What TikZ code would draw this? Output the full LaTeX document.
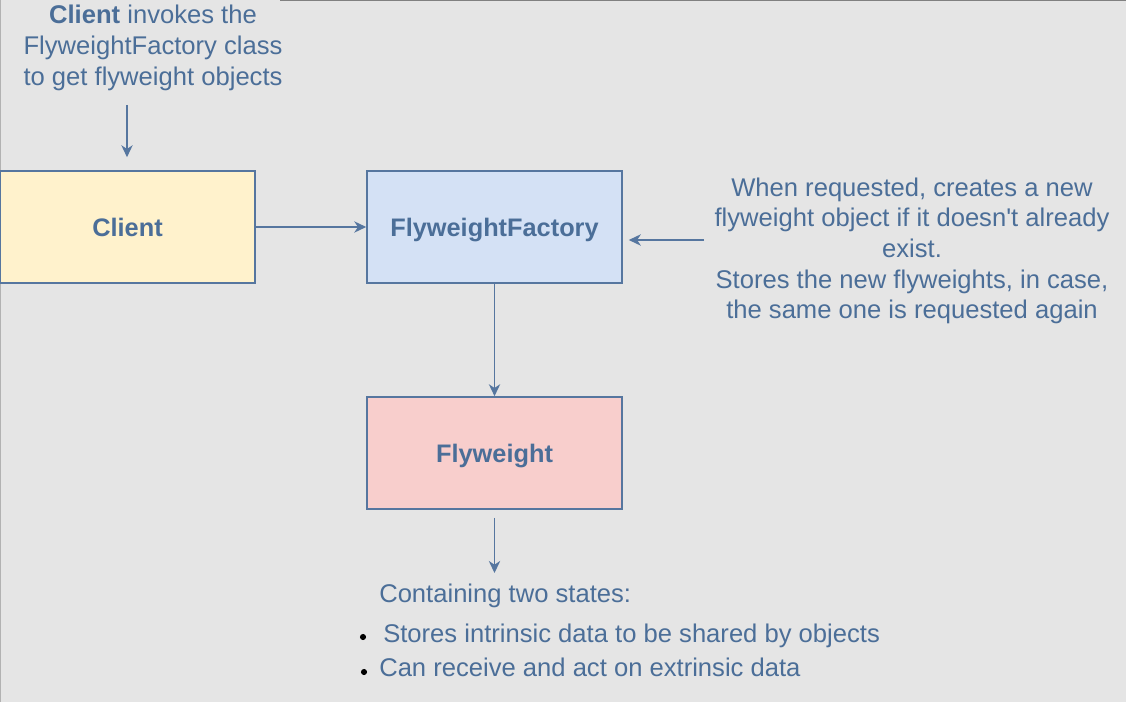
\documentclass[tikz,border=0pt]{standalone}
\usepackage{fontspec}
\setmainfont{Liberation Sans}
\usepackage{xcolor}
\usepackage{tikz}
\usetikzlibrary{arrows.meta}

\definecolor{bgGray}{HTML}{E5E5E5}
\definecolor{txtBlue}{HTML}{4B6E98}
\definecolor{lineBlue}{HTML}{56769F}
\definecolor{clientFill}{HTML}{FFF2CC}
\definecolor{factoryFill}{HTML}{D4E1F5}
\definecolor{flyFill}{HTML}{F8CECC}

\begin{document}
\begin{tikzpicture}[x=0.75pt,y=-0.75pt,
  classbox/.style={draw=lineBlue,line width=1.2pt,minimum width=191.25pt,minimum height=84pt,inner sep=0pt,text height=13.5pt,text depth=0pt,text=txtBlue,font=\fontsize{19}{23}\selectfont\bfseries},
  note/.style={text=txtBlue,font=\fontsize{19.2}{23}\selectfont,align=center,inner sep=0pt},
  flow/.style={draw=lineBlue,line width=1.2pt,-{Stealth[length=9pt,width=8.5pt,inset=2.8pt]}}]
\useasboundingbox (0,0) rectangle (1126,702);
% background
\fill[bgGray] (0,0) rectangle (1126,702);
\draw[gray,line width=1pt] (280,0.6) -- (1126,0.6);
\draw[gray!60,line width=1pt] (0.8,0) -- (0.8,702);

% classes
\node[classbox,fill=clientFill] (client) at (127.5,227) {Client};
\node[classbox,fill=factoryFill] (factory) at (494.5,227) {FlyweightFactory};
\node[classbox,fill=flyFill] (flyweight) at (494.5,453) {Flyweight};

% notes
\node[note] (clientNote) at (153,48) {\textbf{Client} invokes the\\FlyweightFactory class\\to get flyweight objects};
\node[note] (factoryNote) at (912,251) {When requested, creates a new\\flyweight object if it doesn\textquotesingle t already\\exist.\\Stores the new flyweights, in case,\\the same one is requested again};
\node[note,anchor=base west] (statesHead) at (379,602) {Containing two states:};
\node[note,anchor=base west] (stateOne) at (383,642) {Stores intrinsic data to be shared by objects};
\node[note,anchor=base west] (stateTwo) at (379,676) {Can receive and act on extrinsic data};
\fill (363,637) circle[radius=2.3pt];
\fill (364,672) circle[radius=2.3pt];

% arrows
\coordinate (clientTip) at (127,105);
\coordinate (noteTip) at (704,240);
\coordinate (statesTip) at (494.5,573);
\draw[flow,shorten >=9.75pt] (clientTip) -- (clientTip |- client.north);
\draw[flow] (client) -- (factory);
\draw[flow] (factory) -- (flyweight);
\draw[flow,shorten >=4.5pt] (noteTip) -- (noteTip -| factory.east);
\draw[flow,shorten <=6pt] (flyweight) -- (statesTip);
\end{tikzpicture}
\end{document}
